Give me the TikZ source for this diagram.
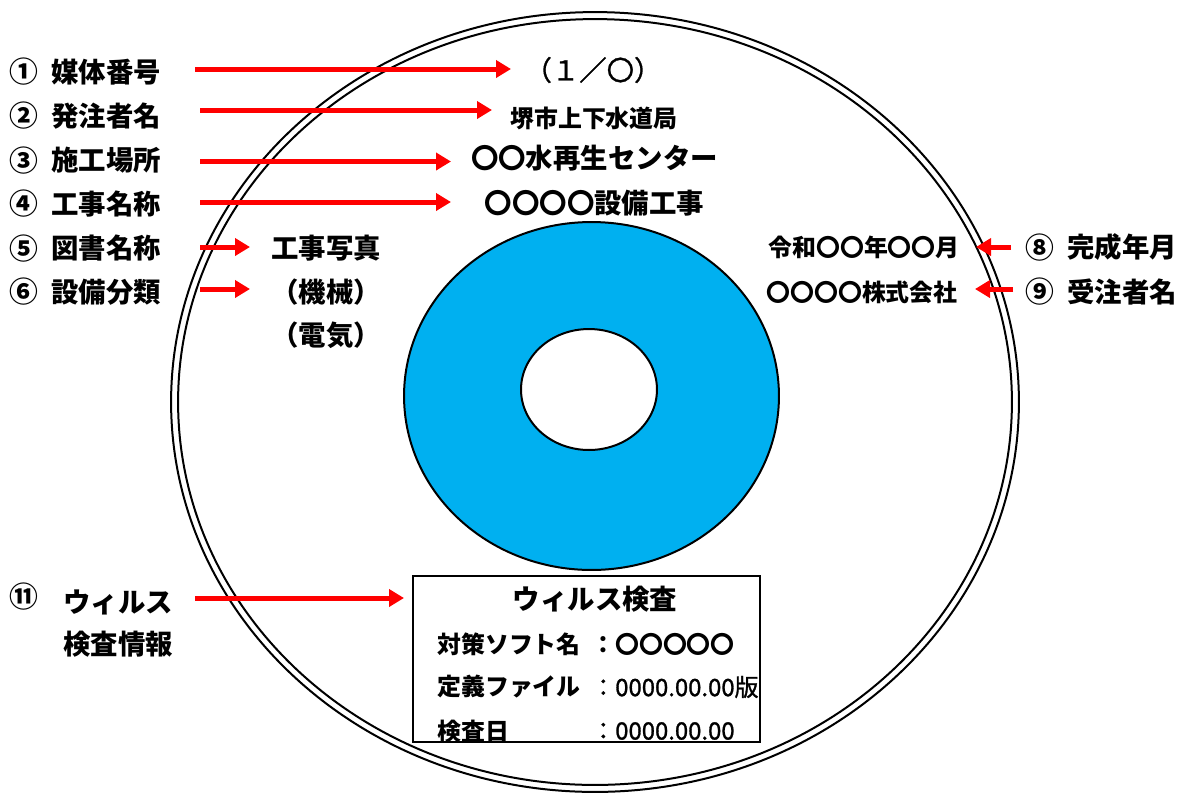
\documentclass[tikz,border=0pt]{standalone}
\usepackage{fontspec}
\setmainfont{Noto Sans CJK JP}
\newfontfamily\medio{Noto Sans CJK JP}[FakeBold=1.2]
\usetikzlibrary{arrows.meta}
\definecolor{discblue}{RGB}{0,176,240}

\begin{document}
\begin{tikzpicture}[x=0.02cm, y=-0.02cm, >={Triangle[length=0.3cm,width=0.34cm]},
	big/.style={font=\bfseries\fontsize{15.6}{18}\selectfont, inner sep=0pt},
	small/.style={font=\bfseries\fontsize{13.6}{16}\selectfont, inner sep=0pt},
	cifra/.style={font=\bfseries\fontsize{16.4}{18}\selectfont, inner sep=0pt},
	valore/.style={font=\medio\fontsize{13.6}{16}\selectfont, inner sep=0pt, anchor=west},
	freccia/.style={->, red, line width=0.1cm}]
	\useasboundingbox (0,0) rectangle (1187,796);
	%Disco
	\draw [line width=0.04cm] (595,402) ellipse [x radius=8.48cm, y radius=7.8cm];
	\draw [line width=0.04cm] (595,402) ellipse [x radius=8.34cm, y radius=7.66cm];
	\filldraw [fill=discblue, line width=0.04cm] (591.5,396) ellipse [x radius=3.75cm, y radius=3.48cm];
	\filldraw [fill=white, line width=0.04cm] (589,389.5) ellipse [x radius=1.36cm, y radius=1.21cm];
	%Etichette sinistra
	\node [cifra] (n1) at (23.5,72) {①};
	\node [big, anchor=west] (l1) at (51,72) {媒体番号};
	\node [cifra] (n2) at (23.5,116) {②};
	\node [big, anchor=west] (l2) at (51,116) {発注者名};
	\node [cifra] (n3) at (23.5,160.5) {③};
	\node [big, anchor=west] (l3) at (51,160.5) {施工場所};
	\node [cifra] (n4) at (23.5,204) {④};
	\node [big, anchor=west] (l4) at (51,204) {工事名称};
	\node [cifra] (n5) at (23.5,248.5) {⑤};
	\node [big, anchor=west] (l5) at (51,248.5) {図書名称};
	\node [cifra] (n6) at (23.5,292) {⑥};
	\node [big, anchor=west] (l6) at (51,292) {設備分類};
	\node [cifra] (n11) at (24,597) {⑪};
	\node [big, anchor=west] (l11) at (63,602) {ウィルス};
	\node [big, anchor=west] (l11b) at (63,644.5) {検査情報};
	%Etichette destra
	\node [cifra] (n8) at (1039.5,247.5) {⑧};
	\node [big, anchor=west] (l8) at (1067,247.5) {完成年月};
	\node [cifra] (n9) at (1039.5,292) {⑨};
	\node [big, anchor=west] (l9) at (1067,292) {受注者名};
	%Testi sul disco
	\node [inner sep=0pt, font=\medio\fontsize{15.6}{18}\selectfont] (t1) at (593,70) {（１／〇）};
	\node [small] (t2) at (594,118.5) {堺市上下水道局};
	\node [big] (t3) at (594.5,158.5) {〇〇水再生センター};
	\node [big] (t4) at (594.5,203.5) {〇〇〇〇設備工事};
	\node [big] (t5) at (326,248.5) {工事写真};
	\node [big] (t6) at (326,292.5) {（機械）};
	\node [big] (t7) at (326,335) {（電気）};
	\node [small] (t8) at (864,247.5) {令和〇〇年〇〇月};
	\node [small] (t9) at (862,292.5) {〇〇〇〇株式会社};
	%Riquadro
	\draw [line width=0.04cm] (413,576) rectangle (760,742);
	\node [big] (v0) at (595,599.5) {ウィルス検査};
	\node [small, anchor=west] (v1) at (437,644) {対策ソフト名};
	\node [small, anchor=west] (v1b) at (591,644) {：〇〇〇〇〇};
	\node [small, anchor=west] (v2) at (437,687) {定義ファイル};
	\node [valore] (v2b) at (591,687) {：0000.00.00版};
	\node [small, anchor=west] (v3) at (437,731) {検査日};
	\node [valore] (v3b) at (591,731) {：0000.00.00};
	%Frecce
	\coordinate (a1s) at (195,69);   \coordinate (a1e) at (511,69);
	\coordinate (a2s) at (200,110);  \coordinate (a2e) at (492,110);
	\coordinate (a3s) at (200,161.5);\coordinate (a3e) at (451,161.5);
	\coordinate (a4s) at (200,202);  \coordinate (a4e) at (451,202);
	\coordinate (a5s) at (200,247);  \coordinate (a5e) at (250,247);
	\coordinate (a6s) at (200,289);  \coordinate (a6e) at (250,289);
	\coordinate (a8s) at (1011,247); \coordinate (a8e) at (976,247);
	\coordinate (a9s) at (1013,289); \coordinate (a9e) at (975,289);
	\coordinate (a11s) at (195,598); \coordinate (a11e) at (404,598);
	\foreach \a in {1,2,3,4,5,6,8,9,11}
	{\draw [freccia] (a\a s) -- (a\a e);}
\end{tikzpicture}
\end{document}
